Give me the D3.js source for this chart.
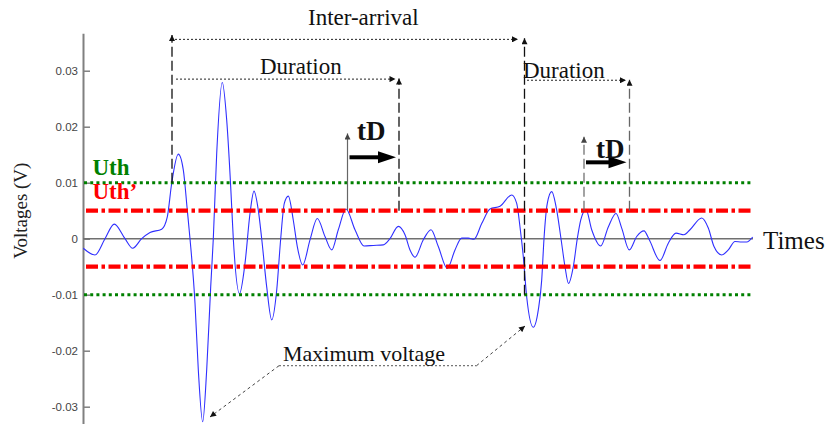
<!DOCTYPE html>
<html>
<head>
<meta charset="utf-8">
<script src="https://cdn.jsdelivr.net/npm/d3@7"></script>
<style>
  body { margin: 0; background: #fff; }
  svg { display: block; }
  .serif { font-family: "Liberation Serif", "Times New Roman", Times, "DejaVu Serif", serif; }
  .sans { font-family: "Liberation Sans", Arial, Helvetica, sans-serif; }
</style>
</head>
<body>
<svg id="chart" width="829" height="424"></svg>
<script>
// ---- Recorded partial-discharge signal (time in samples, voltage in V) ----
const signalTime = [
  0.3, 12, 22, 31.3, 42, 49.7, 58.7, 67, 78.7, 84.3, 88.7, 95.3, 100.3, 104.3, 107,
  112, 115.3, 119.7, 123.7, 127.7, 130.3, 133.7, 139.3, 143.7, 147.7, 150.3, 156.5,
  162, 167, 171, 175.3, 178.7, 183.7, 188.7, 193.7, 197.7, 201.3, 205.3, 210.3,
  214.3, 219.7, 227, 234.3, 242, 248.7, 255.3, 263, 272, 281, 290.3, 300.3, 307,
  315.3, 322, 327, 332, 340.3, 348, 355.3, 364.3, 372, 378.7, 385.3, 391, 398.7,
  407, 417, 428.7, 433.7, 437, 440.3, 443.7, 450.3, 455.3, 458.7, 461, 464.3,
  468.7, 473.7, 478, 482, 485.5, 490.3, 494.3, 497.7, 503, 508.7, 517.7, 525.3,
  533, 538.7, 546.3, 553.7, 561, 566.3, 577, 585.3, 593, 601, 607, 618.7, 625.3,
  631, 638.7, 645.3, 652, 658.7, 663.7, 669.7
];
const signalVolts = [
  -0.0017, -0.0029, 0, 0.0026, 0, -0.0017, 0, 0.0011, 0.0017, 0.0039, 0.0099, 0.0151, 0.0123, 0.0051, 0,
  -0.0115, -0.0234, -0.0327, -0.0234, -0.0086, 0, 0.0152, 0.0279, 0.0212, 0.0093, 0, -0.0098,
  -0.0044, 0.0045, 0.0085, 0.0051, 0, -0.0086, -0.0145, -0.0092, 0, 0.0063, 0.0076, 0.0033,
  -0.0014, -0.0047, -0.0002, 0.0036, 0.0004, -0.002, 0.0016, 0.0053, 0.0016, -0.0013, -0.0012, -0.0011, 0,
  0.0022, 0.0007, -0.002, -0.0033, -0.0002, 0.0016, -0.0014, -0.0053, -0.002, 0.0001, 0.0001, -0.0001, 0.0027,
  0.0053, 0.0058, 0.0078, 0.0063, 0.0021, -0.0032, -0.0104, -0.0158, -0.0127, -0.0074, 0, 0.0063,
  0.0084, 0.0051, 0, -0.005, -0.008, -0.005, 0, 0.0033, 0.0052, 0.0016, -0.0013, 0.0021,
  0.0045, 0.0019, -0.002, 0.0004, 0.0014, -0.0002, -0.0039, -0.0008, 0.001, 0.0007, 0.0016, 0.0037, 0.0019,
  -0.0014, -0.0029, -0.002, -0.0005, -0.0006, -0.0006, 0.0003
];

// Detection thresholds (V)
const uth = 0.01;
const uthPrime = 0.005;

// Voltage axis ticks
const yTicks = [0.03, 0.02, 0.01, 0, -0.01, -0.02, -0.03];

// ---- Annotation values (time, voltage) ----
const pulseStart = [89, 441.5];          // threshold crossing that opens each pulse
const pulseStartLevel = [0.01, -0.01];
const pulseStartTop = [0.0364, 0.0358];
const interArrivalLevel = 0.0356;
const interArrivalSpan = [92, 435];
const durationEnd = [316, 546.5];
const durationFrom = [93, 444];
const durationLevel = [0.0285, 0.0283];
const tdStart = [264.5, 501];
const tdTop = [0.0188, 0.0182];
const tdArrowLevel = [0.01454, 0.01364];
const tdLabelPos = [[274, 0.0176], [513, 0.0144]];
const durationLabelPos = [[177, 0.0295], [440, 0.02866]];
const interArrivalLabelPos = [225, 0.03816];
const maxVoltLevel = -0.02268;
const maxVoltSpan = [196, 393.5];
const maxVoltTips = [[127, -0.03184], [442, -0.01559]];
const maxVoltLabelPos = [200, -0.02184];

const svg = d3.select("#chart");

const x = d3.scaleLinear().domain([0, 670]).range([83, 753]);
const y = d3.scaleLinear().domain([-0.035, 0.0367]).range([434.7, 33.2]);

// arrowhead markers
const defs = svg.append("defs");
function marker(id, color, w, h) {
  defs.append("marker")
    .attr("id", id)
    .attr("viewBox", "0 0 10 10")
    .attr("refX", 10).attr("refY", 5)
    .attr("markerUnits", "userSpaceOnUse")
    .attr("markerWidth", w).attr("markerHeight", h)
    .attr("orient", "auto")
    .append("path").attr("d", "M0,0L10,5L0,10Z").attr("fill", color);
}
marker("arrowDark", "#111", 7, 6);
marker("arrowGrey", "#444", 7, 6);

// ---- Voltage axis ----
const axis = svg.append("g")
  .attr("transform", `translate(${x(0)},0)`)
  .call(d3.axisLeft(y)
    .tickValues(yTicks)
    .tickSizeInner(-7)
    .tickSizeOuter(0)
    .tickPadding(5)
    .tickFormat(d => d === 0 ? "0" : String(d)));
axis.attr("font-family", null).attr("font-size", null);
axis.select(".domain").attr("stroke", "#808080").attr("stroke-width", 2);
axis.selectAll(".tick line").attr("stroke", "#808080").attr("stroke-width", 1.5);
axis.selectAll(".tick text")
  .attr("class", "sans")
  .attr("fill", "#444")
  .style("font-size", "11.5px");

svg.append("text")
  .attr("class", "serif")
  .attr("transform", `translate(27,${y(0.005)}) rotate(-90)`)
  .attr("text-anchor", "middle")
  .attr("fill", "#222")
  .style("font-size", "19px")
  .text("Voltages (V)");

// zero reference
svg.append("line")
  .attr("x1", x(0)).attr("x2", x(670))
  .attr("y1", y(0)).attr("y2", y(0))
  .attr("stroke", "#707070").attr("stroke-width", 1.5);

svg.append("text")
  .attr("class", "serif")
  .attr("x", x(680)).attr("y", y(-0.00184))
  .attr("fill", "#111")
  .style("font-size", "25px")
  .text("Times");

// ---- Signal ----
const line = d3.line()
  .x((d, i) => x(signalTime[i]))
  .y(d => y(d))
  .curve(d3.curveMonotoneX);
svg.append("path")
  .datum(signalVolts)
  .attr("d", line)
  .attr("fill", "none")
  .attr("stroke", "#2f2fff")
  .attr("stroke-width", 1.1);

// ---- Threshold lines ----
[uth, -uth].forEach(v => {
  svg.append("line")
    .attr("x1", x(1)).attr("x2", x(668))
    .attr("y1", y(v)).attr("y2", y(v))
    .attr("stroke", "#008000").attr("stroke-width", 3)
    .attr("stroke-dasharray", "3,3.2");
});
[uthPrime, -uthPrime].forEach(v => {
  svg.append("line")
    .attr("x1", x(3)).attr("x2", x(669))
    .attr("y1", y(v)).attr("y2", y(v))
    .attr("stroke", "#ff0000").attr("stroke-width", 4.3)
    .attr("stroke-dasharray", "12,3.5,3.5,3.5");
});

svg.append("text")
  .attr("class", "serif")
  .attr("x", x(9.5)).attr("y", y(0.01138))
  .attr("fill", "#008000")
  .style("font-weight", "bold")
  .style("font-size", "23px")
  .text("Uth");
svg.append("text")
  .attr("class", "serif")
  .attr("x", x(9.5)).attr("y", y(0.00709))
  .attr("fill", "#ff0000")
  .style("font-weight", "bold")
  .style("font-size", "23px")
  .text("Uth\u2019");

// ---- Annotations ----
const g = svg.append("g");
function seg(x1, y1, x2, y2, color, width, dash, mark) {
  const l = g.append("line")
    .attr("x1", x1).attr("y1", y1).attr("x2", x2).attr("y2", y2)
    .attr("stroke", color).attr("stroke-width", width)
    .attr("stroke-dasharray", dash);
  if (mark) l.attr("marker-end", `url(#${mark})`);
  return l;
}
function label(pos, txt, size, bold) {
  g.append("text")
    .attr("class", "serif")
    .attr("x", x(pos[0])).attr("y", y(pos[1]))
    .attr("fill", "#111")
    .style("font-size", size + "px")
    .style("font-weight", bold ? "bold" : "normal")
    .text(txt);
}
function thickArrow(t1, t2, v) {
  const x1 = x(t1), x2 = x(t2), yy = y(v), head = 18, half = 6;
  g.append("line")
    .attr("x1", x1).attr("x2", x2 - head + 1)
    .attr("y1", yy).attr("y2", yy)
    .attr("stroke", "#000").attr("stroke-width", 4);
  g.append("path")
    .attr("d", `M${x2},${yy}L${x2 - head},${yy - half}L${x2 - head},${yy + half}Z`)
    .attr("fill", "#000");
}

// pulse starts (dashed verticals up to the inter-arrival arrow)
pulseStart.forEach((t, i) => {
  seg(x(t), y(pulseStartLevel[i]), x(t), y(pulseStartTop[i]), "#111", 1.3, "10,4", "arrowDark");
});
seg(x(interArrivalSpan[0]), y(interArrivalLevel), x(interArrivalSpan[1]), y(interArrivalLevel),
    "#222", 1, "2,2", "arrowDark");
label(interArrivalLabelPos, "Inter-arrival", 23, false);

// durations
durationEnd.forEach((t, i) => {
  const c = i === 0 ? "#111" : "#666";
  seg(x(durationFrom[i]), y(durationLevel[i]), x(t - 3.5), y(durationLevel[i]), "#222", 1, "2,2", "arrowDark");
  seg(x(t), y(uthPrime), x(t), y(durationLevel[i] + 0.0001), c, 1.3, "10,4", "arrowDark");
  label(durationLabelPos[i], "Duration", 23, false);
});

// tD: time above Uth' until the pulse ends
tdStart.forEach((t, i) => {
  seg(x(t), y(uthPrime), x(t), y(tdTop[i]), "#666", 1.2, i === 0 ? null : "10,4", "arrowGrey");
  thickArrow(t + 2, durationEnd[i] - 3, tdArrowLevel[i]);
  label(tdLabelPos[i], "tD", 27, true);
});

// maximum voltage pointers
seg(x(maxVoltSpan[0]), y(maxVoltLevel), x(maxVoltSpan[1]), y(maxVoltLevel), "#555", 1, "2,2", null);
seg(x(maxVoltSpan[0]), y(maxVoltLevel), x(maxVoltTips[0][0]), y(maxVoltTips[0][1]), "#444", 1, "3,3", "arrowDark");
seg(x(maxVoltSpan[1]), y(maxVoltLevel), x(maxVoltTips[1][0]), y(maxVoltTips[1][1]), "#444", 1, "3,3", "arrowDark");
label(maxVoltLabelPos, "Maximum voltage", 22, false);
</script>
</body>
</html>
